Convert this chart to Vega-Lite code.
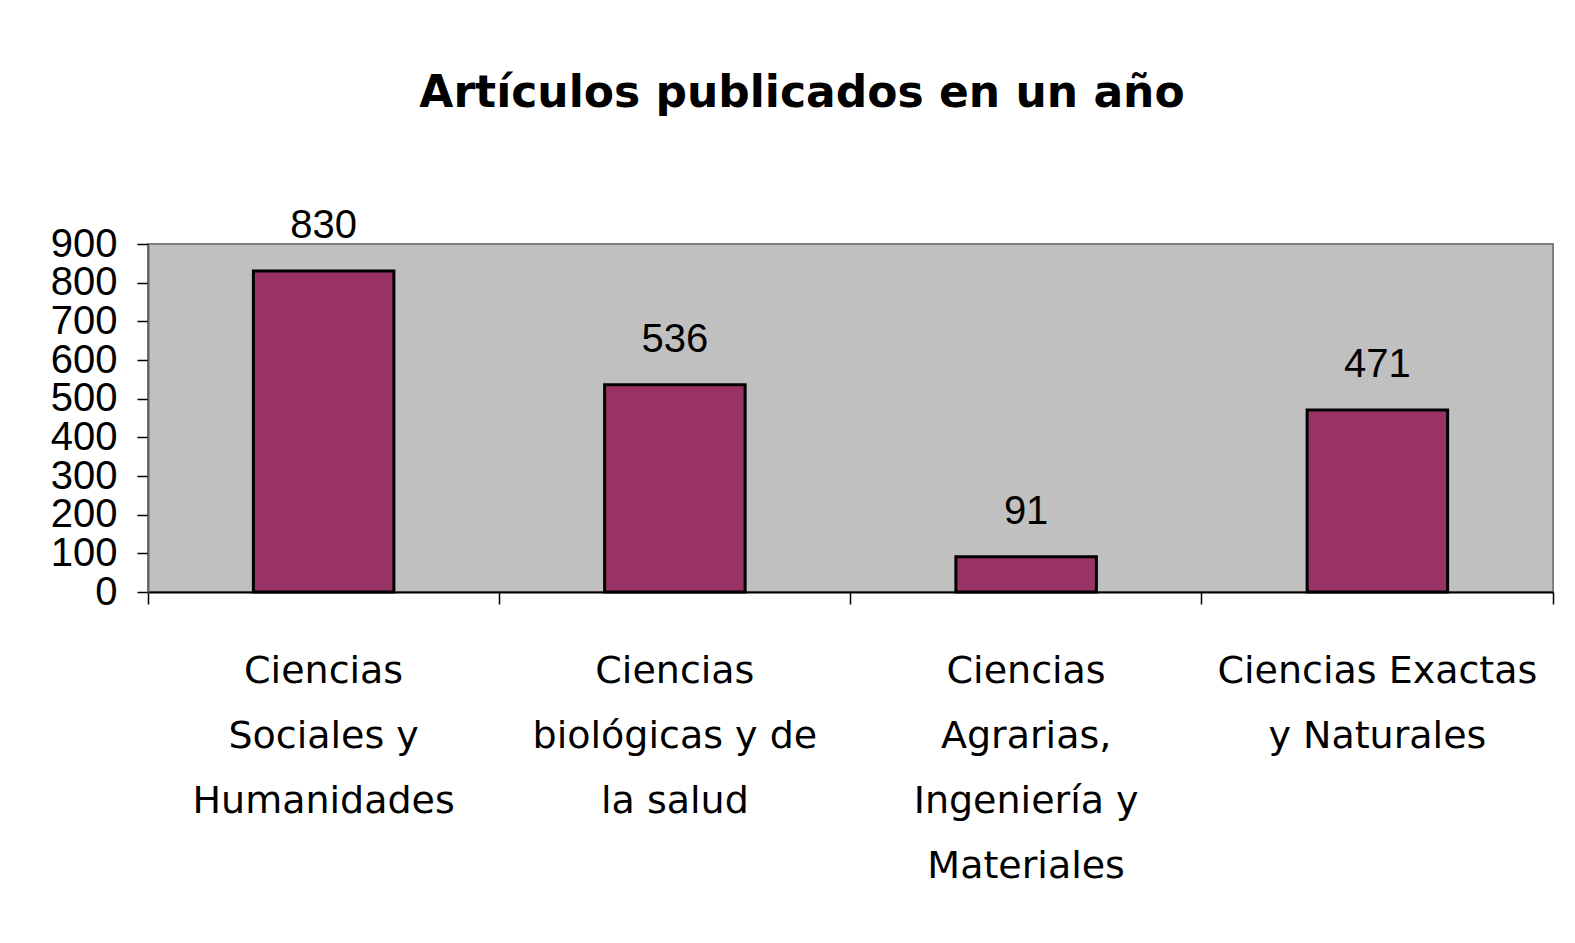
{
  "$schema": "https://vega.github.io/schema/vega-lite/v6.json",
  "width": 1405,
  "height": 348,
  "autosize": {"type": "none"},
  "padding": {"left": 148, "top": 244, "right": 22, "bottom": 351},
  "background": "white",
  "title": {
    "text": "Artículos publicados en un año",
    "font": "DejaVu Sans",
    "fontSize": 44,
    "fontWeight": "bold",
    "color": "black",
    "anchor": "middle",
    "frame": "bounds",
    "offset": 90
  },
  "config": {
    "view": {"fill": "#C0C0C0", "stroke": "#808080", "strokeWidth": 2}
  },
  "data": {
    "values": [
      {"area": "Ciencias Sociales y Humanidades", "articulos": 830},
      {"area": "Ciencias biológicas y de la salud", "articulos": 536},
      {"area": "Ciencias Agrarias, Ingeniería y Materiales", "articulos": 91},
      {"area": "Ciencias Exactas y Naturales", "articulos": 471}
    ]
  },
  "encoding": {
    "y": {
      "field": "articulos",
      "type": "quantitative",
      "scale": {"domain": [0, 900], "nice": false},
      "axis": {
        "title": null,
        "values": [0, 100, 200, 300, 400, 500, 600, 700, 800, 900],
        "grid": false,
        "domainColor": "#606060",
        "domainWidth": 2,
        "tickColor": "black",
        "tickSize": 11,
        "tickWidth": 1.5,
        "labelFont": "Liberation Sans",
        "labelFontSize": 40,
        "labelColor": "black",
        "labelPadding": 20,
        "labelOverlap": false,
        "labelFlush": false
      }
    }
  },
  "layer": [
    {
      "mark": {"type": "bar", "color": "#993366", "stroke": "black", "strokeWidth": 3},
      "encoding": {
        "x": {
          "field": "area",
          "type": "nominal",
          "sort": null,
          "scale": {"paddingInner": 0.6, "paddingOuter": 0.3},
          "axis": {
            "orient": "bottom",
            "title": null,
            "labelAngle": 0,
            "ticks": false,
            "domain": true,
            "domainColor": "black",
            "domainWidth": 2,
            "labelFont": "DejaVu Sans",
            "labelFontSize": 38,
            "labelColor": "black",
            "labelPadding": 60,
            "labelLineHeight": 65,
            "labelLimit": 0,
            "labelExpr": "datum.value == 'Ciencias Sociales y Humanidades' ? ['Ciencias','Sociales y','Humanidades'] : datum.value == 'Ciencias biológicas y de la salud' ? ['Ciencias','biológicas y de','la salud'] : datum.value == 'Ciencias Agrarias, Ingeniería y Materiales' ? ['Ciencias','Agrarias,','Ingeniería y','Materiales'] : ['Ciencias Exactas','y Naturales']"
          }
        }
      }
    },
    {
      "mark": {"type": "text", "font": "Liberation Sans", "fontSize": 40, "color": "black", "baseline": "alphabetic", "dy": -33},
      "encoding": {
        "x": {
          "field": "area",
          "type": "nominal",
          "sort": null,
          "axis": {
            "orient": "bottom",
            "title": null,
            "labels": false,
            "domain": false,
            "ticks": true,
            "tickSize": 12,
            "tickColor": "black",
            "tickWidth": 1.5,
            "bandPosition": -0.75,
            "grid": false
          }
        },
        "text": {"field": "articulos", "type": "quantitative"}
      }
    },
    {
      "mark": {"type": "bar", "opacity": 0},
      "encoding": {
        "x": {
          "field": "area",
          "type": "nominal",
          "sort": null,
          "axis": {
            "orient": "bottom",
            "title": null,
            "labels": false,
            "domain": false,
            "ticks": true,
            "tickSize": 12,
            "tickColor": "black",
            "tickWidth": 1.5,
            "bandPosition": 1.75,
            "values": ["Ciencias Exactas y Naturales"],
            "grid": false
          }
        }
      }
    }
  ],
  "resolve": {"axis": {"x": "independent"}}
}
